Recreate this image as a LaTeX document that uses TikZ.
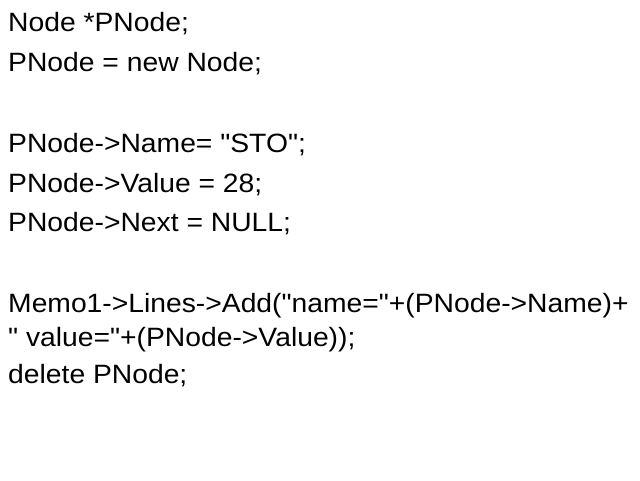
\documentclass[tikz,border=0pt]{standalone}
\usepackage{fontspec}
\setmainfont[FakeStretch=1.067,Ligatures=TeXOff]{Liberation Sans}
\newcommand{\dq}{\symbol{34}}
\begin{document}
\begin{tikzpicture}[x=1pt,y=1pt,
  codeline/.style={anchor=base west, inner sep=0pt, font=\fontsize{26.5}{30}\selectfont, text=black}]
\fill[white] (0,0) rectangle (640,480);
\useasboundingbox (0,0) rectangle (640,480);
\node[codeline] (l1) at (8,448) {Node *PNode;};
\node[codeline] (l2) at (8,408) {PNode = new Node;};
\node[codeline] (l4) at (8,327) {PNode->Name= \dq STO\dq;};
\node[codeline] (l5) at (8,287) {PNode->Value = 28;};
\node[codeline] (l6) at (8,248) {PNode->Next = NULL;};
\node[codeline] (l8) at (8,168) {Memo1->Lines->Add(\dq name=\dq+(PNode->Name)+};
\node[codeline] (l9) at (8,134) {\dq{} value=\dq+(PNode->Value));};
\node[codeline] (l10) at (8,97) {delete PNode;};
\end{tikzpicture}
\end{document}
